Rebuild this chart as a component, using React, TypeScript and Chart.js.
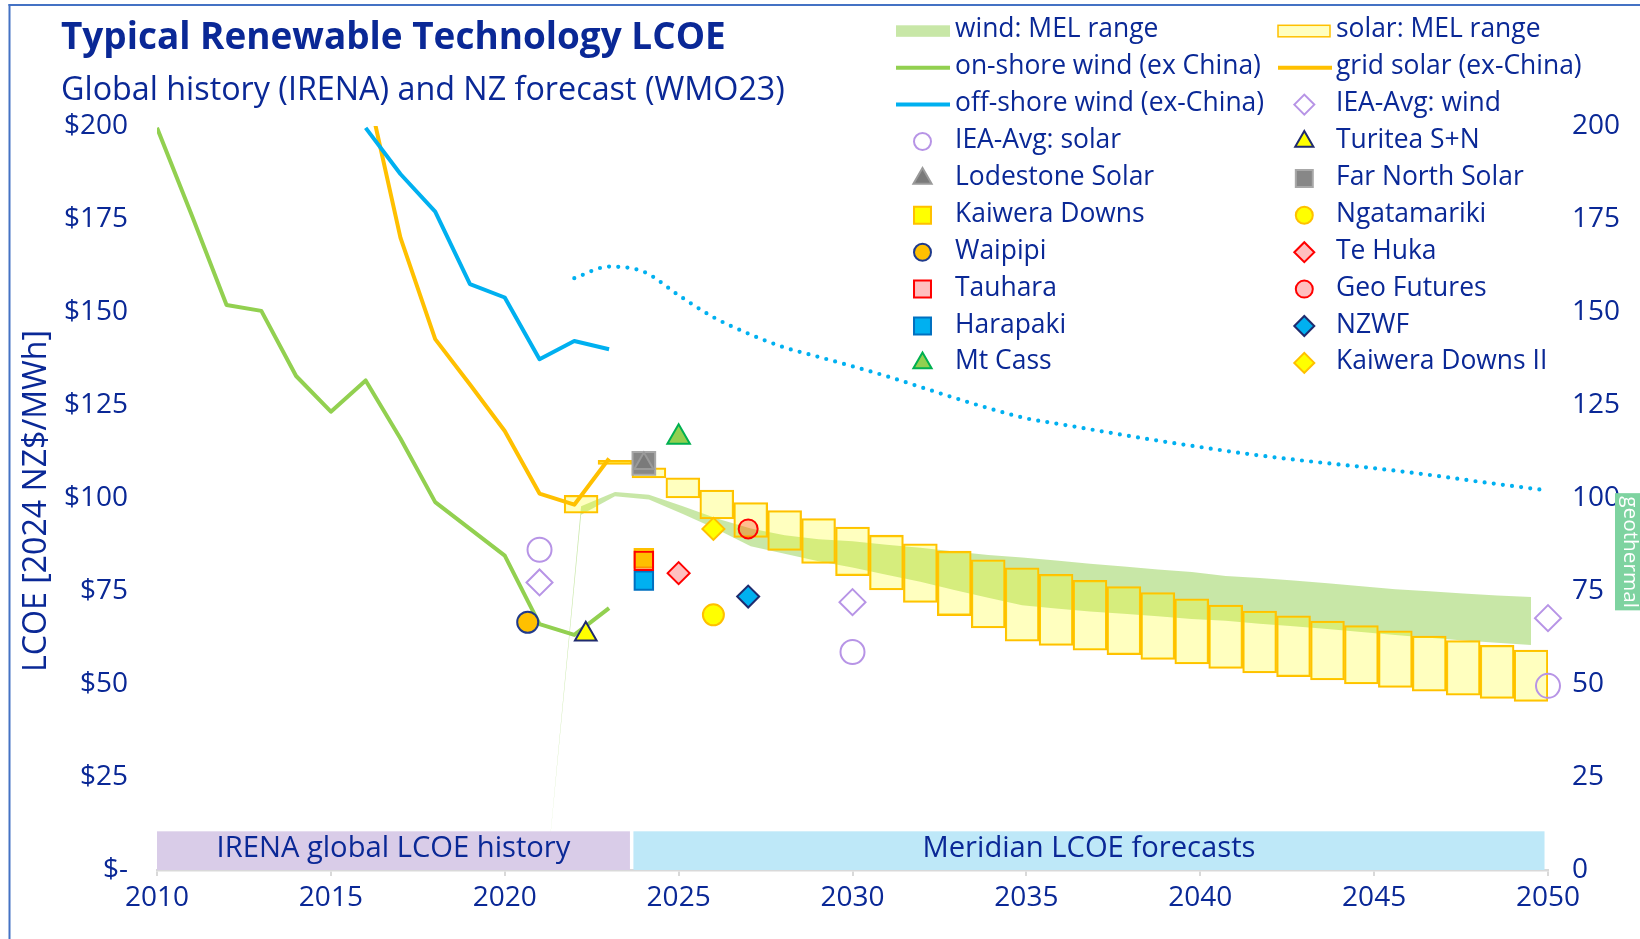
import React, { useEffect, useRef } from 'react';
import { Chart, registerables } from 'chart.js';
import { drawPoint } from 'chart.js/helpers';

Chart.register(...registerables);

// ---------------- data ----------------
// one column / band point per year for the MEL forecast ranges
const rangeYears = ['2010', '2011', '2012', '2013', '2014', '2015', '2016', '2017', '2018', '2019', '2020',
  '2021', '2022', '2023', '2024', '2025', '2026', '2027', '2028', '2029', '2030',
  '2031', '2032', '2033', '2034', '2035', '2036', '2037', '2038', '2039', '2040',
  '2041', '2042', '2043', '2044', '2045', '2046', '2047', '2048', '2049', '2050'];

const solarLow = [null, null, null, null, null, null, null, null, null, null, null, null,
  95.9, 109.0, 105.4, 100.0, 94.4, 89.4, 85.9, 82.4, 79.1, 75.3, 71.9, 68.4, 65.1, 61.5,
  60.4, 59.1, 57.9, 56.6, 55.4, 54.2, 53.0, 52.0, 51.1, 50.0, 49.1, 48.1, 47.0, 46.1, 45.3];
const solarHigh = [null, null, null, null, null, null, null, null, null, null, null, null,
  100.7, 110.1, 108.1, 105.4, 102.1, 98.8, 96.6, 94.5, 92.2, 90.0, 87.7, 85.7, 83.4, 81.2,
  79.5, 77.9, 76.2, 74.6, 72.9, 71.2, 69.6, 68.3, 66.9, 65.7, 64.3, 62.9, 61.7, 60.4, 59.1];

const windLow = [null, null, null, null, null, null, null, null, null, null, null, 0,
  95.5, 100.5, 99.6, 95.7, 91.6, 87.0, 85.0, 83.0, 81.3, 79.4, 77.5, 75.3, 73.2, 71.2,
  70.3, 69.5, 68.9, 68.2, 67.5, 67.0, 66.2, 65.5, 64.8, 64.0, 63.2, 62.4, 61.7, 61.1, 60.5];
const windHigh = [null, null, null, null, null, null, null, null, null, null, null, 0,
  97.8, 101.6, 100.9, 97.8, 94.5, 91.8, 90.0, 88.9, 88.4, 87.4, 86.6, 85.6, 84.7, 84.0,
  83.2, 82.3, 81.6, 80.8, 80.1, 79.0, 78.5, 77.8, 77.1, 76.3, 75.5, 74.9, 74.3, 73.8, 73.4];

// IRENA global history
const onshoreYears = [2010, 2011, 2012, 2013, 2014, 2015, 2016, 2017, 2018, 2019, 2020, 2021, 2022, 2023];
const onshoreWind = [199.5, 176, 151.9, 150.3, 132.8, 123.2, 131.6, 116, 98.9, 91.7, 84.5, 66.1, 63.2, 70.4];
const offshoreYears = [2016, 2017, 2018, 2019, 2020, 2021, 2022, 2023];
const offshoreWind = [199.5, 187.1, 177.0, 157.5, 153.9, 137.3, 142.2, 140.0];
const solarYears = [2016, 2017, 2018, 2019, 2020, 2021, 2022, 2023];
const gridSolar = [212, 170.0, 142.7, 130.5, 118.0, 101.2, 98.2, 110.6];

// off-shore wind forecast (dotted)
const offshoreFcYears = [2022, 2023, 2024, 2025, 2026, 2027, 2028, 2029, 2030, 2031, 2032, 2033, 2034, 2035,
  2036, 2037, 2038, 2039, 2040, 2041, 2042, 2043, 2044, 2045, 2046, 2047, 2048, 2049, 2050];
const offshoreFc = [159.1, 162.2, 160.8, 154.5, 148.6, 144.2, 140.6, 138.0, 135.4, 132.7, 129.7, 126.7, 123.9, 121.4,
  119.8, 118.2, 116.6, 115.1, 113.7, 112.3, 111.1, 110.0, 109.0, 108.0, 106.9, 105.7, 104.4, 103.2, 102.0];

// IEA averages
const ieaYears = [2021, 2030, 2050];
const ieaWind = [77.3, 72.0, 67.7];
const ieaSolar = [86.1, 58.6, 49.5];

// NZ projects
const projectNames = ['Turitea S+N', 'Lodestone Solar', 'Far North Solar', 'Kaiwera Downs', 'Ngatamariki',
  'Waipipi', 'Te Huka', 'Tauhara', 'Geo Futures', 'Harapaki', 'NZWF', 'Mt Cass', 'Kaiwera Downs II'];
const projectYears = [2022.33, 2024, 2024, 2024, 2026, 2020.66, 2025, 2024, 2027, 2024, 2027, 2025, 2026];
const projectLcoe = [63.4, 109.3, 109.3, 83.8, 68.6, 66.6, 79.8, 83.1, 91.7, 77.8, 73.5, 116.3, 91.7];

// shaded period bands
const periodLabels = ['IRENA global LCOE history', 'Meridian LCOE forecasts'];
const periodStart = [2010, 2023.7];
const periodEnd = [2023.6, 2049.9];
const periodTop = 10.4;

// geothermal range tag
const geoLow = 69.8;
const geoHigh = 101.3;

const xTicks = [2010, 2015, 2020, 2025, 2030, 2035, 2040, 2045, 2050];

// ---------------- styles ----------------
const NAVY = '#0A2896';
const FAMILY = '"Open Sans", "Noto Sans", sans-serif';

const markerStyles: Record<string, any> = {
  'IEA-Avg: wind': { ps: 'rectRot', r: 13, lr: 10, fill: 'rgba(255,255,255,0)', stroke: '#B794E6', order: 2 },
  'IEA-Avg: solar': { ps: 'circle', r: 12, lr: 8.5, fill: 'rgba(255,255,255,0)', stroke: '#B794E6', order: 2 },
  'Turitea S+N': { ps: 'triangle', r: 12.5, lr: 10.5, fill: '#FFFF00', stroke: '#1F2B6E', order: 1 },
  'Lodestone Solar': { ps: 'triangle', r: 11, lr: 10.5, fill: '#7A7A7A', stroke: '#9A9A9A', order: 0 },
  'Far North Solar': { ps: 'rect', r: 16, lr: 12, fill: '#878787', stroke: '#A8A8A8', order: 1 },
  'Kaiwera Downs': { ps: 'rect', r: 13, lr: 12, fill: '#FFFF00', stroke: '#FFC000', order: 1 },
  'Ngatamariki': { ps: 'circle', r: 10.5, lr: 8.5, fill: '#FFFF00', stroke: '#FFC000', order: 1 },
  'Waipipi': { ps: 'circle', r: 10.5, lr: 8.5, fill: '#FFC000', stroke: '#1F3A8C', order: 1 },
  'Te Huka': { ps: 'rectRot', r: 11, lr: 10, fill: 'rgba(255,0,0,0.25)', stroke: '#FF0000', order: 1 },
  'Tauhara': { ps: 'rect', r: 13, lr: 12, fill: 'rgba(255,0,0,0.25)', stroke: '#FF0000', order: 0 },
  'Geo Futures': { ps: 'circle', r: 9.5, lr: 8.5, fill: 'rgba(255,0,0,0.25)', stroke: '#FF0000', order: 1 },
  'Harapaki': { ps: 'rect', r: 13, lr: 12, fill: '#00B0F0', stroke: '#0070C0', order: 1 },
  'NZWF': { ps: 'rectRot', r: 11, lr: 10, fill: '#00B0F0', stroke: '#1F2B6E', order: 1 },
  'Mt Cass': { ps: 'triangle', r: 13, lr: 10.5, fill: '#92D050', stroke: '#00B050', order: 1 },
  'Kaiwera Downs II': { ps: 'rectRot', r: 11, lr: 10, fill: '#FFFF00', stroke: '#FFC000', order: 1 },
};

const legendOrder = ['wind: MEL range', 'solar: MEL range', 'on-shore wind (ex China)', 'grid solar (ex-China)',
  'off-shore wind (ex-China)', 'IEA-Avg: wind', 'IEA-Avg: solar', 'Turitea S+N', 'Lodestone Solar', 'Far North Solar',
  'Kaiwera Downs', 'Ngatamariki', 'Waipipi', 'Te Huka', 'Tauhara', 'Geo Futures', 'Harapaki', 'NZWF', 'Mt Cass',
  'Kaiwera Downs II'];

function pts(xs: number[], ys: number[]) {
  return xs.map((x, i) => ({ x, y: ys[i] }));
}

function markerDataset(label: string, data: any[]) {
  const s = markerStyles[label];
  return {
    type: 'scatter', label, data, xAxisID: 'x', yAxisID: 'y', order: s.order, clip: false,
    pointStyle: s.ps, pointRadius: s.r, pointHoverRadius: s.r, backgroundColor: s.fill,
    borderColor: s.stroke, pointBorderWidth: 2, legendKind: 'point', legendRadius: s.lr,
  };
}

function fitSize(ctx: CanvasRenderingContext2D, text: string, weight: string, target: number) {
  ctx.font = `${weight} 100px ${FAMILY}`;
  return (100 * target) / ctx.measureText(text).width;
}

const decorPlugin = {
  id: 'decor',
  beforeDraw(chart: any) {
    const { ctx, width, height } = chart;
    ctx.save();
    ctx.fillStyle = '#FFFFFF';
    ctx.fillRect(0, 0, width, height);
    ctx.fillStyle = '#4472C4';
    ctx.fillRect(8.5, 4, 2, height);
    ctx.fillRect(8.5, 4, width, 2);
    ctx.restore();
  },
  afterDatasetsDraw(chart: any) {
    const { ctx } = chart;
    const xs = chart.scales.x;
    const ys = chart.scales.y;
    const y2 = chart.scales.y2;
    ctx.save();
    const colors = ['#D9CCE8', '#BEE8F8'];
    const size = fitSize(ctx, periodLabels[0], 'normal', 354);
    periodLabels.forEach((lab, i) => {
      const x0 = xs.getPixelForValue(periodStart[i]);
      const x1 = xs.getPixelForValue(periodEnd[i]);
      const yt = ys.getPixelForValue(periodTop);
      const yb = ys.getPixelForValue(0);
      ctx.fillStyle = colors[i];
      ctx.fillRect(x0, yt, x1 - x0, yb - yt);
      ctx.fillStyle = NAVY;
      ctx.font = `normal ${size}px ${FAMILY}`;
      ctx.textAlign = 'center';
      ctx.textBaseline = 'middle';
      ctx.fillText(lab, (x0 + x1) / 2, (yt + yb) / 2 - 2);
    });
    // geothermal tag
    const gt = y2.getPixelForValue(geoHigh);
    const gb = y2.getPixelForValue(geoLow);
    const gx = chart.chartArea.right + 67;
    ctx.fillStyle = '#7ED3A0';
    ctx.fillRect(gx, gt, chart.width - gx, gb - gt);
    const gs = fitSize(ctx, 'geothermal', 'normal', 112);
    ctx.font = `normal ${gs}px ${FAMILY}`;
    ctx.fillStyle = '#FFFFFF';
    ctx.translate(gx + 9, gt + 3);
    ctx.rotate(Math.PI / 2);
    ctx.textAlign = 'left';
    ctx.textBaseline = 'alphabetic';
    ctx.fillText('geothermal', 0, 0);
    ctx.restore();
  },
  afterDraw(chart: any) {
    const { ctx } = chart;
    ctx.save();
    ctx.fillStyle = NAVY;
    ctx.textAlign = 'left';
    ctx.textBaseline = 'alphabetic';
    const t = 'Typical Renewable Technology LCOE';
    ctx.font = `bold ${fitSize(ctx, t, 'bold', 665)}px ${FAMILY}`;
    ctx.fillText(t, 61, 48.5);
    const st = 'Global history (IRENA) and NZ forecast (WMO23)';
    ctx.font = `normal ${fitSize(ctx, st, 'normal', 724)}px ${FAMILY}`;
    ctx.fillText(st, 61, 100);

    // y axis title
    const at = 'LCOE [2024 NZ$/MWh]';
    const as = fitSize(ctx, at, 'normal', 342);
    ctx.save();
    ctx.font = `normal ${as}px ${FAMILY}`;
    ctx.translate(37, (chart.chartArea.top + chart.chartArea.bottom) / 2 + 3);
    ctx.rotate(-Math.PI / 2);
    ctx.textAlign = 'center';
    ctx.textBaseline = 'middle';
    ctx.fillText(at, 0, 0);
    ctx.restore();

    // legend
    const ls = fitSize(ctx, 'on-shore wind (ex China)', 'normal', 306);
    const cols = [{ sym: 896, mid: 922.5, text: 955 }, { sym: 1278, mid: 1304.3, text: 1336 }];
    legendOrder.forEach((label, i) => {
      const ds = chart.data.datasets.find((d: any) => d.label === label);
      if (!ds) return;
      const c = cols[i % 2];
      const y = 29.8 + Math.floor(i / 2) * 36.9;
      if (ds.legendKind === 'band') {
        ctx.fillStyle = ds.backgroundColor;
        ctx.fillRect(c.sym, y - 4.5, 54, 11.5);
      } else if (ds.legendKind === 'bar') {
        ctx.fillStyle = ds.backgroundColor;
        ctx.fillRect(c.sym, y - 4.5, 52, 11.5);
        ctx.strokeStyle = ds.borderColor;
        ctx.lineWidth = 1.5;
        ctx.strokeRect(c.sym, y - 4.5, 52, 11.5);
      } else if (ds.legendKind === 'line') {
        ctx.strokeStyle = ds.borderColor;
        ctx.lineWidth = 4;
        ctx.lineCap = 'butt';
        ctx.beginPath();
        ctx.moveTo(c.sym, y + 1);
        ctx.lineTo(c.sym + 54, y + 1);
        ctx.stroke();
      } else {
        ctx.fillStyle = ds.backgroundColor;
        ctx.strokeStyle = ds.borderColor;
        ctx.lineWidth = 2;
        drawPoint(ctx, { pointStyle: ds.pointStyle, radius: ds.legendRadius, borderWidth: 2, rotation: 0 }, c.mid, y + 1);
      }
      ctx.fillStyle = NAVY;
      ctx.font = `normal ${ls}px ${FAMILY}`;
      ctx.textAlign = 'left';
      ctx.textBaseline = 'middle';
      ctx.fillText(label, c.text, y);
    });
    ctx.restore();
  },
};

export default function App() {
  const ref = useRef<HTMLCanvasElement>(null);

  useEffect(() => {
    const canvas = ref.current;
    if (!canvas) return;

    const solarRange = solarLow.map((lo, i) => (lo === null || solarHigh[i] === null ? null : [lo, solarHigh[i]]));

    const datasets: any[] = [
      // project markers (drawn on top)
      ...projectNames.map((n, i) => markerDataset(n, [{ x: projectYears[i], y: projectLcoe[i] }])),
      markerDataset('IEA-Avg: wind', pts(ieaYears, ieaWind)),
      markerDataset('IEA-Avg: solar', pts(ieaYears, ieaSolar)),
      {
        type: 'line', label: 'on-shore wind (ex China)', data: pts(onshoreYears, onshoreWind), xAxisID: 'x', yAxisID: 'y',
        borderColor: '#92D050', borderWidth: 4, pointRadius: 0, borderJoinStyle: 'round', fill: false, order: 5, legendKind: 'line',
      },
      {
        type: 'line', label: 'off-shore wind (ex-China)', data: pts(offshoreYears, offshoreWind), xAxisID: 'x', yAxisID: 'y',
        borderColor: '#00B0F0', borderWidth: 4, pointRadius: 0, borderJoinStyle: 'round', fill: false, order: 5, legendKind: 'line',
      },
      {
        type: 'line', label: 'grid solar (ex-China)', data: pts(solarYears, gridSolar), xAxisID: 'x', yAxisID: 'y',
        borderColor: '#FFC000', borderWidth: 4, pointRadius: 0, borderJoinStyle: 'round', fill: false, order: 5, legendKind: 'line',
      },
      {
        type: 'line', label: 'off-shore wind forecast', data: pts(offshoreFcYears, offshoreFc), xAxisID: 'x', yAxisID: 'y',
        borderColor: '#00B0F0', borderWidth: 4.2, borderDash: [0, 9.2], borderCapStyle: 'round', pointRadius: 0,
        fill: false, order: 5, cubicInterpolationMode: 'monotone', legendKind: 'none',
      },
      {
        type: 'bar', label: 'solar: MEL range', data: solarRange, xAxisID: 'xc', yAxisID: 'y',
        backgroundColor: 'rgba(255,255,0,0.25)', borderColor: '#FFC000', borderWidth: 1.6, borderSkipped: false,
        barPercentage: 1, categoryPercentage: 1, grouped: false, order: 8, legendKind: 'bar',
      },
      {
        type: 'line', label: 'wind: MEL range', data: windHigh, xAxisID: 'xc', yAxisID: 'y',
        borderColor: 'rgba(0,0,0,0)', borderWidth: 0, pointRadius: 0, fill: '+1',
        backgroundColor: 'rgba(146,208,80,0.5)', order: 9, legendKind: 'band',
      },
      {
        type: 'line', label: 'wind: MEL low', data: windLow, xAxisID: 'xc', yAxisID: 'y',
        borderColor: 'rgba(0,0,0,0)', borderWidth: 0, pointRadius: 0, fill: false, order: 9, legendKind: 'none',
      },
    ];

    const tickFont = { family: FAMILY, size: 28 };

    const chart = new Chart(canvas, {
      data: { labels: rangeYears, datasets },
      plugins: [decorPlugin],
      options: {
        animation: false,
        responsive: false,
        maintainAspectRatio: false,
        events: [],
        layout: { padding: { top: 126, left: 0, right: 0, bottom: 0 } },
        plugins: { legend: { display: false }, tooltip: { enabled: false }, title: { display: false } },
        scales: {
          x: {
            type: 'linear', position: 'bottom', min: 2010, max: 2050,
            afterBuildTicks: (s: any) => { s.ticks = xTicks.map((v) => ({ value: v })); },
            ticks: { color: NAVY, font: tickFont, padding: 5, maxRotation: 0, autoSkip: false, callback: (v: any) => String(v) },
            grid: { drawOnChartArea: false, drawTicks: true, tickLength: 6, color: '#D9D9D9', lineWidth: 2 },
            border: { display: true, color: '#D9D9D9', width: 2.5 },
            afterFit: (s: any) => { s.height = 69; },
          },
          xc: { type: 'category', labels: rangeYears, offset: true, display: false, grid: { offset: true } },
          y: {
            position: 'left', min: 0, max: 200,
            ticks: { stepSize: 25, color: NAVY, font: tickFont, padding: 29, callback: (v: any) => (v === 0 ? '$-' : '$' + v) },
            grid: { display: false, drawTicks: false }, border: { display: false },
            afterFit: (s: any) => { s.width = 157; },
          },
          y2: {
            position: 'right', min: 0, max: 200,
            ticks: { stepSize: 25, color: NAVY, font: tickFont, padding: 24, callback: (v: any) => String(v) },
            grid: { display: false, drawTicks: false }, border: { display: false },
            afterFit: (s: any) => { s.width = 92; },
          },
        },
      } as any,
    } as any);

    return () => chart.destroy();
  }, []);

  return (
    <div style={{ position: 'fixed', left: 0, top: 0, width: 1640, height: 939, background: '#FFFFFF' }}>
      <canvas ref={ref} width={1640} height={939} style={{ width: 1640, height: 939, display: 'block' }} />
    </div>
  );
}
